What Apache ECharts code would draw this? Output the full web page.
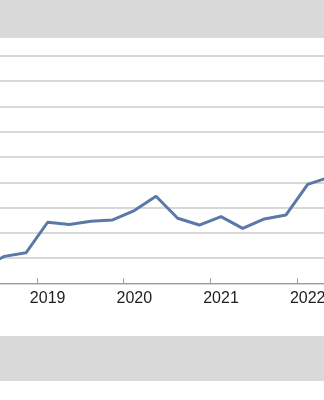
<!DOCTYPE html>
<html>
<head>
<meta charset="utf-8">
<script src="https://cdn.jsdelivr.net/npm/echarts@6/dist/echarts.min.js"></script>
<style>
html,body{margin:0;padding:0;background:#fff;}
#c{width:324px;height:400px;}
</style>
</head>
<body>
<div id="c"></div>
<script>
const quarters = ['2018 Q2','2018 Q3','2018 Q4','2019 Q1','2019 Q2','2019 Q3','2019 Q4','2020 Q1','2020 Q2','2020 Q3','2020 Q4','2021 Q1','2021 Q2','2021 Q3','2021 Q4','2022 Q1','2022 Q2'];
const values = [0.62, 1.07, 1.21, 2.42, 2.33, 2.46, 2.51, 2.88, 3.45, 2.58, 2.31, 2.64, 2.18, 2.55, 2.71, 3.92, 4.2];
const yTicks = [0,1,2,3,4,5,6,7,8,9,10];

const chart = echarts.init(document.getElementById('c'), null, {renderer:'canvas'});
const isQ1 = (i) => quarters[i].endsWith('Q1');
chart.setOption({
  animation:false,
  backgroundColor:'#ffffff',
  grid:{left:-28.2, width:368.4, top:30.7, bottom:116.6, containLabel:false, outerBoundsMode:'none'},
  xAxis:{
    type:'category',
    data:quarters,
    boundaryGap:true,
    axisLine:{show:true, lineStyle:{color:'#9a9a9a', width:1}},
    axisTick:{show:true, inside:true, length:5, alignWithLabel:false, interval:(i)=>isQ1(i), lineStyle:{color:'#9a9a9a', width:1}},
    axisLabel:{show:true, interval:(i)=>isQ1(i), margin:7, color:'#1e1e1e', fontFamily:'Liberation Sans', fontSize:16,
      formatter:(v)=>v.split(' ')[0]},
    splitLine:{show:false}
  },
  yAxis:{
    type:'value',
    min:yTicks[0], max:yTicks[yTicks.length-1], interval:1,
    axisLine:{show:false}, axisTick:{show:false}, axisLabel:{show:false},
    splitLine:{show:true, lineStyle:{color:'#cbcbcb', width:1.5}}
  },
  series:[{
    type:'line',
    data:values,
    symbol:'none',
    lineStyle:{color:'#5a79a6', width:3},
    z:5
  }],
  graphic:[
    {type:'rect', left:0, top:0, shape:{width:324, height:38}, style:{fill:'#d9d9d9'}, z:100},
    {type:'rect', left:0, top:336, shape:{width:324, height:45}, style:{fill:'#d9d9da'}, z:100}
  ]
});
</script>
</body>
</html>
